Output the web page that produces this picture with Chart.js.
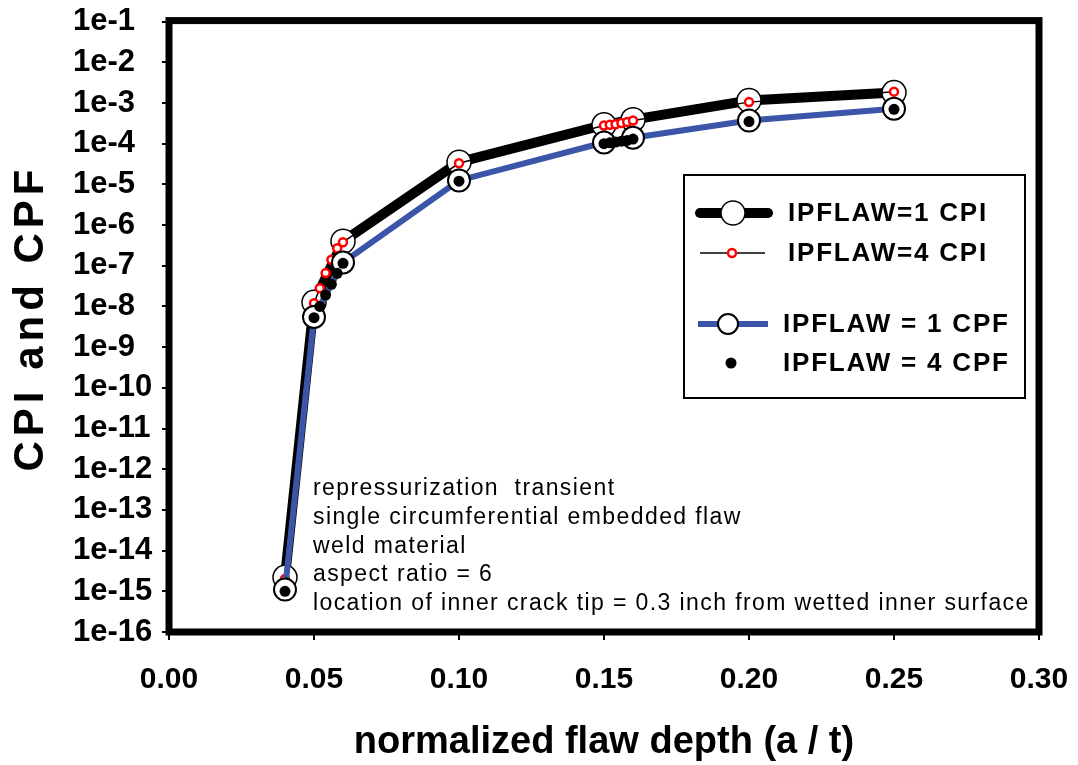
<!DOCTYPE html>
<html>
<head>
<meta charset="utf-8">
<title>CPI and CPF vs normalized flaw depth</title>
<script src="https://cdn.jsdelivr.net/npm/chart.js@4.4.1/dist/chart.umd.min.js"></script>
<style>
    body { margin: 0; background: #fff; }
    #wrap { width: 1078px; height: 765px; position: relative; }
</style>
</head>
<body>
<div id="wrap"><canvas id="flawChart"></canvas></div>
<script>
// Data
const xMain = [0.04, 0.05, 0.06, 0.10, 0.15, 0.16, 0.20, 0.25];
const cpiFlaw1 = [2.2e-15, 1.26e-8, 4.0e-7, 3.5e-5, 2.9e-4, 3.9e-4, 1.15e-3, 1.8e-3];
const cpfFlaw1 = [1.1e-15, 5.5e-9, 1.2e-7, 1.25e-5, 1.07e-4, 1.4e-4, 3.7e-4, 7.2e-4];

const xFine = [0.04, 0.05, 0.052, 0.054, 0.056, 0.058, 0.06, 0.10, 0.15, 0.152, 0.154, 0.156, 0.158, 0.16, 0.20, 0.25];
const cpiFlaw4 = [2.0e-15, 1.2e-8, 2.8e-8, 6.6e-8, 1.4e-7, 2.7e-7, 3.8e-7, 3.3e-5, 2.8e-4, 2.9e-4, 3.0e-4, 3.2e-4, 3.4e-4, 3.7e-4, 1.05e-3, 1.9e-3];
const cpfFlaw4 = [1.0e-15, 5.3e-9, 1.0e-8, 1.9e-8, 3.5e-8, 6.5e-8, 1.15e-7, 1.2e-5, 1.0e-4, 1.05e-4, 1.1e-4, 1.15e-4, 1.2e-4, 1.3e-4, 3.5e-4, 7.0e-4];

const yTickValues = [1e-1, 1e-2, 1e-3, 1e-4, 1e-5, 1e-6, 1e-7, 1e-8, 1e-9, 1e-10, 1e-11, 1e-12, 1e-13, 1e-14, 1e-15, 1e-16];
const yTickLabels = ['1e-1', '1e-2', '1e-3', '1e-4', '1e-5', '1e-6', '1e-7', '1e-8', '1e-9', '1e-10', '1e-11', '1e-12', '1e-13', '1e-14', '1e-15', '1e-16'];

const legendLabels = ['IPFLAW=1 CPI', 'IPFLAW=4 CPI', 'IPFLAW = 1 CPF', 'IPFLAW = 4 CPF'];
const noteLines = [
    'repressurization  transient',
    'single circumferential embedded flaw',
    'weld material',
    'aspect ratio = 6',
    'location of inner crack tip = 0.3 inch from wetted inner surface'
];

const BLUE = '#3b55a8';
const FONT = 'Arial, "Liberation Sans", sans-serif';

function toPoints(xs, ys) {
    return xs.map((x, i) => ({ x: x, y: ys[i] }));
}

// Frame, y title, legend box and note text
const decorPlugin = {
    id: 'decor',
    afterDraw(chart) {
        const ctx = chart.ctx;
        const a = chart.chartArea;
        ctx.save();

        // thick frame round the plot
        ctx.strokeStyle = '#000';
        ctx.lineWidth = 7;
        ctx.strokeRect(a.left, a.top - 1, a.right - a.left, a.bottom - a.top + 1);

        // y axis title
        ctx.save();
        ctx.translate(31, 318);
        ctx.rotate(-Math.PI / 2);
        ctx.font = 'bold 42px ' + FONT;
        ctx.letterSpacing = '5px';
        ctx.fillStyle = '#000';
        ctx.textAlign = 'center';
        ctx.textBaseline = 'middle';
        ctx.fillText('CPI and CPF', 0, 0);
        ctx.restore();

        // note text
        ctx.font = '23px ' + FONT;
        ctx.letterSpacing = '1.4px';
        ctx.fillStyle = '#000';
        ctx.textAlign = 'left';
        ctx.textBaseline = 'middle';
        noteLines.forEach((line, i) => {
            ctx.fillText(line, 313, 489 + i * 28.6);
        });

        // legend box
        ctx.letterSpacing = '0px';
        ctx.fillStyle = '#fff';
        ctx.fillRect(684, 175, 341, 223);
        ctx.lineWidth = 2;
        ctx.strokeStyle = '#000';
        ctx.strokeRect(684, 175, 341, 223);

        const rowY = [213, 253, 324, 363];

        // row 1: thick black line, big white circle
        ctx.lineCap = 'round';
        ctx.lineWidth = 10;
        ctx.beginPath(); ctx.moveTo(700, rowY[0]); ctx.lineTo(768, rowY[0]); ctx.stroke();
        ctx.lineWidth = 1.5;
        ctx.fillStyle = '#fff';
        ctx.beginPath(); ctx.arc(733, rowY[0], 12, 0, Math.PI * 2); ctx.fill(); ctx.stroke();

        // row 2: thin black line, small red circle
        ctx.lineCap = 'butt';
        ctx.lineWidth = 1.5;
        ctx.beginPath(); ctx.moveTo(700, rowY[1]); ctx.lineTo(765, rowY[1]); ctx.stroke();
        ctx.strokeStyle = '#ff0000';
        ctx.lineWidth = 2.5;
        ctx.beginPath(); ctx.arc(732, rowY[1], 4, 0, Math.PI * 2); ctx.fill(); ctx.stroke();

        // row 3: blue line, white circle
        ctx.strokeStyle = BLUE;
        ctx.lineWidth = 6;
        ctx.beginPath(); ctx.moveTo(698, rowY[2]); ctx.lineTo(768, rowY[2]); ctx.stroke();
        ctx.strokeStyle = '#000';
        ctx.lineWidth = 2;
        ctx.beginPath(); ctx.arc(728, rowY[2], 10, 0, Math.PI * 2); ctx.fill(); ctx.stroke();

        // row 4: black dot
        ctx.fillStyle = '#000';
        ctx.beginPath(); ctx.arc(731, rowY[3], 5.5, 0, Math.PI * 2); ctx.fill();

        // legend text
        ctx.font = 'bold 26px ' + FONT;
        ctx.letterSpacing = '1.8px';
        ctx.textAlign = 'left';
        ctx.textBaseline = 'middle';
        ctx.fillText(legendLabels[0], 788, rowY[0] + 1);
        ctx.fillText(legendLabels[1], 788, rowY[1] + 1);
        ctx.fillText(legendLabels[2], 783, rowY[2] + 1);
        ctx.fillText(legendLabels[3], 783, rowY[3] + 1);

        ctx.restore();
    }
};

const ctx = document.getElementById('flawChart');

new Chart(ctx, {
    type: 'line',
    data: {
        datasets: [
            {
                label: legendLabels[0],
                data: toPoints(xMain, cpiFlaw1),
                borderColor: '#000',
                borderWidth: 10,
                pointRadius: 12,
                pointBackgroundColor: '#fff',
                pointBorderColor: '#000',
                pointBorderWidth: 1.5,
                order: 3
            },
            {
                label: legendLabels[1],
                data: toPoints(xFine, cpiFlaw4),
                borderColor: '#000',
                borderWidth: 1.5,
                pointRadius: 4,
                pointBackgroundColor: '#fff',
                pointBorderColor: '#ff0000',
                pointBorderWidth: 2.5,
                order: 2
            },
            {
                label: legendLabels[2],
                data: toPoints(xMain, cpfFlaw1),
                borderColor: BLUE,
                borderWidth: 6,
                pointRadius: 11,
                pointBackgroundColor: '#fff',
                pointBorderColor: '#000',
                pointBorderWidth: 2,
                order: 1
            },
            {
                label: legendLabels[3],
                data: toPoints(xFine, cpfFlaw4),
                showLine: false,
                pointRadius: 5.5,
                pointBackgroundColor: '#000',
                pointBorderColor: '#000',
                pointBorderWidth: 0,
                order: 0
            }
        ]
    },
    options: {
        responsive: true,
        maintainAspectRatio: false,
        animation: false,
        layout: {
            padding: { left: 73, right: 39, top: 20, bottom: 0 }
        },
        plugins: {
            legend: { display: false },
            tooltip: { enabled: false }
        },
        scales: {
            x: {
                type: 'linear',
                min: 0,
                max: 0.3,
                afterFit(scale) {
                    scale.height = 133;
                    scale.paddingLeft = 0;
                    scale.paddingRight = 0;
                },
                ticks: {
                    stepSize: 0.05,
                    color: '#000',
                    font: { family: FONT, size: 30, weight: 'bold' },
                    padding: 22,
                    maxRotation: 0,
                    callback: v => v.toFixed(2)
                },
                grid: {
                    drawOnChartArea: false,
                    drawTicks: true,
                    tickLength: 8,
                    color: '#000',
                    lineWidth: 2
                },
                border: { display: false },
                title: {
                    display: true,
                    text: 'normalized flaw depth (a / t)',
                    color: '#000',
                    font: { family: FONT, size: 38, weight: 'bold' },
                    padding: { top: 20, bottom: 0 }
                }
            },
            y: {
                type: 'logarithmic',
                min: 1e-16,
                max: 1e-1,
                afterFit(scale) { scale.width = 96; },
                afterBuildTicks(scale) {
                    scale.ticks = yTickValues.map(v => ({ value: v }));
                },
                ticks: {
                    color: '#000',
                    crossAlign: 'far',
                    font: { family: FONT, size: 31, weight: 'bold' },
                    callback: (value, index) => yTickLabels[index]
                },
                grid: {
                    drawOnChartArea: false,
                    drawTicks: true,
                    tickLength: 7,
                    color: '#000',
                    lineWidth: 2
                },
                border: { display: false }
            }
        }
    },
    plugins: [decorPlugin]
});
</script>
</body>
</html>
